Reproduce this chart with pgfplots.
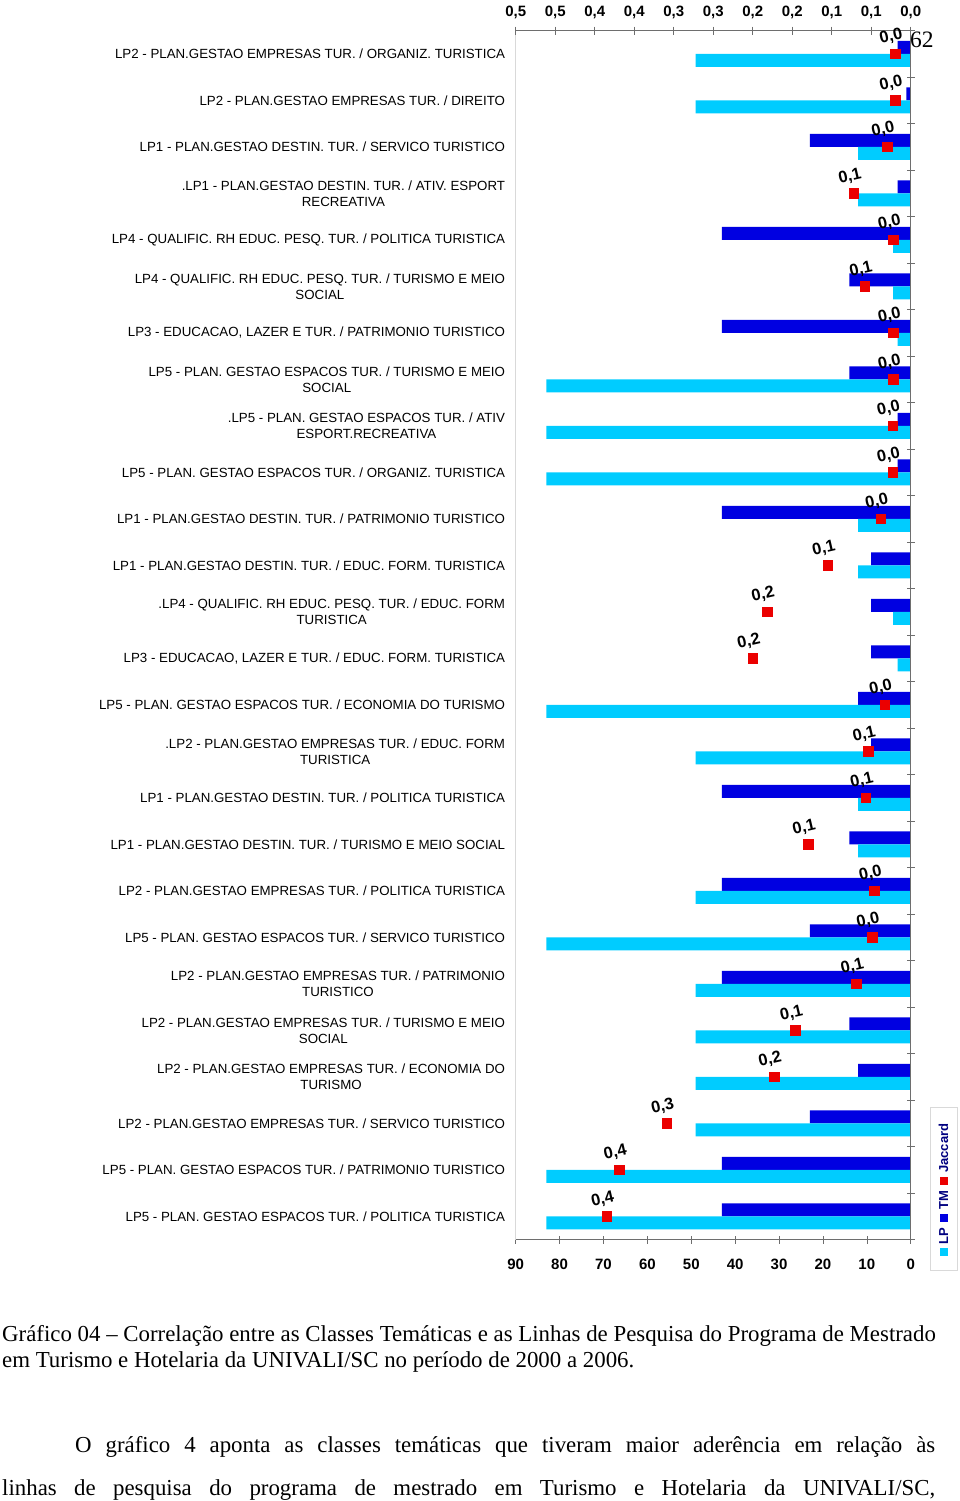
\documentclass[border=0pt]{standalone}
\usepackage{pgfplots}
\pgfplotsset{compat=1.18}
\usepackage{pgfplotstable}
\usepackage{fontspec}
\setmainfont{Liberation Serif}
\newfontfamily\arial{Liberation Sans}
\definecolor{lpc}{RGB}{0,204,255}
\definecolor{tmc}{RGB}{0,0,225}
\definecolor{jc}{RGB}{235,0,0}
\definecolor{leg}{RGB}{0,0,128}
\definecolor{axc}{RGB}{110,110,110}

\pgfplotstableread{
row tm lp j lab
1 3 49 0.020 0,0
2 1 49 0.020 0,0
3 23 12 0.030 0,0
4 3 12 0.072 0,1
5 43 4 0.022 0,0
6 14 4 0.058 0,1
7 43 3 0.022 0,0
8 14 83 0.022 0,0
9 3 83 0.023 0,0
10 3 83 0.023 0,0
11 43 12 0.038 0,0
12 9 12 0.105 0,1
13 9 4 0.182 0,2
14 9 3 0.200 0,2
15 12 83 0.033 0,0
16 9 49 0.054 0,1
17 43 12 0.057 0,1
18 14 12 0.130 0,1
19 43 49 0.046 0,0
20 23 83 0.049 0,0
21 43 49 0.069 0,1
22 14 49 0.146 0,1
23 12 49 0.173 0,2
24 23 49 0.309 0,3
25 43 83 0.369 0,4
26 43 83 0.385 0,4
}\data

\begin{document}
\begin{tikzpicture}[x=1pt,y=1pt]
\useasboundingbox (0,0) rectangle (960,-1501);
\begin{axis}[
 at={(515.7pt,-1239.5pt)}, anchor=south west,
 scale only axis, width=395pt, height=1209pt,
 xmin=0, xmax=90, x dir=reverse,
 ymin=0, ymax=26, y dir=reverse,
 clip=false,
 axis line style={draw=none},
 xtick={0,10,20,30,40,50,60,70,80,90},
 xticklabels={0,10,20,30,40,50,60,70,80,90},
 xtick pos=bottom,
 tick align=center, major tick length=8pt, minor tick length=8pt,
 tick style={axc, line width=0.6pt},
 xticklabel style={font=\arial\bfseries\fontsize{15}{18}\selectfont, yshift=-12pt},
 ytick={0.5,1.5,...,25.5},
 ytick pos=right, yticklabel pos=left,
 major y tick style={draw=none},
 minor ytick={0,1,...,26},
 minor y tick style={draw=axc, line width=0.6pt},
 yticklabel style={font=\arial\fontsize{13.3}{16}\selectfont, align=center, inner xsep=0pt, xshift=-6.5pt},
 yticklabels={
 {LP2 - PLAN.GESTAO EMPRESAS TUR. / ORGANIZ. TURISTICA},
 {LP2 - PLAN.GESTAO EMPRESAS TUR. / DIREITO},
 {LP1 - PLAN.GESTAO DESTIN. TUR. / SERVICO TURISTICO},
 {.LP1 - PLAN.GESTAO DESTIN. TUR. / ATIV. ESPORT\\RECREATIVA},
 {LP4 - QUALIFIC. RH EDUC. PESQ. TUR. / POLITICA TURISTICA},
 {LP4 - QUALIFIC. RH EDUC. PESQ. TUR. / TURISMO E MEIO\\SOCIAL},
 {LP3 - EDUCACAO, LAZER E TUR. / PATRIMONIO TURISTICO},
 {LP5 - PLAN. GESTAO ESPACOS TUR. / TURISMO E MEIO\\SOCIAL},
 {.LP5 - PLAN. GESTAO ESPACOS TUR. / ATIV\\ESPORT.RECREATIVA},
 {LP5 - PLAN. GESTAO ESPACOS TUR. / ORGANIZ. TURISTICA},
 {LP1 - PLAN.GESTAO DESTIN. TUR. / PATRIMONIO TURISTICO},
 {LP1 - PLAN.GESTAO DESTIN. TUR. / EDUC. FORM. TURISTICA},
 {.LP4 - QUALIFIC. RH EDUC. PESQ. TUR. / EDUC. FORM\\TURISTICA},
 {LP3 - EDUCACAO, LAZER E TUR. / EDUC. FORM. TURISTICA},
 {LP5 - PLAN. GESTAO ESPACOS TUR. / ECONOMIA DO TURISMO},
 {.LP2 - PLAN.GESTAO EMPRESAS TUR. / EDUC. FORM\\TURISTICA},
 {LP1 - PLAN.GESTAO DESTIN. TUR. / POLITICA TURISTICA},
 {LP1 - PLAN.GESTAO DESTIN. TUR. / TURISMO E MEIO SOCIAL},
 {LP2 - PLAN.GESTAO EMPRESAS TUR. / POLITICA TURISTICA},
 {LP5 - PLAN. GESTAO ESPACOS TUR. / SERVICO TURISTICO},
 {LP2 - PLAN.GESTAO EMPRESAS TUR. / PATRIMONIO\\TURISTICO},
 {LP2 - PLAN.GESTAO EMPRESAS TUR. / TURISMO E MEIO\\SOCIAL},
 {LP2 - PLAN.GESTAO EMPRESAS TUR. / ECONOMIA DO\\TURISMO},
 {LP2 - PLAN.GESTAO EMPRESAS TUR. / SERVICO TURISTICO},
 {LP5 - PLAN. GESTAO ESPACOS TUR. / PATRIMONIO TURISTICO},
 {LP5 - PLAN. GESTAO ESPACOS TUR. / POLITICA TURISTICA}},
]
\addplot[xbar, bar width=13pt, bar shift=0pt, fill=tmc, draw=none]
  table[x=tm, y expr=\thisrow{row}-0.5-0.14] {\data};
\addplot[xbar, bar width=13pt, bar shift=0pt, fill=lpc, draw=none]
  table[x=lp, y expr=\thisrow{row}-0.5+0.14] {\data};
\draw[gray!30, line width=0.8pt] (axis cs:90,0) -- (axis cs:90,26);
\draw[axc, line width=0.8pt] (axis cs:0,0) -- (axis cs:0,26);
\draw[axc, line width=0.8pt] (axis cs:90,26) -- (axis cs:0,26);
\end{axis}

\begin{axis}[
 at={(515.7pt,-1239.5pt)}, anchor=south west,
 scale only axis, width=395pt, height=1209pt,
 xmin=0, xmax=0.5, x dir=reverse,
 ymin=0, ymax=26, y dir=reverse,
 axis x line*=top, axis y line=none,
 axis line style={axc, line width=0.8pt},
 tick align=center, major tick length=8pt,
 tick style={axc, line width=0.6pt},
 xtick={0,0.05,0.1,0.15,0.2,0.25,0.3,0.35,0.4,0.45,0.5},
 xticklabels={{0,0},{0,1},{0,1},{0,2},{0,2},{0,3},{0,3},{0,4},{0,4},{0,5},{0,5}},
 xticklabel style={font=\arial\bfseries\fontsize{15}{18}\selectfont, yshift=4pt},
 clip=false,
]
\addplot[only marks, mark=square*, mark size=4.8pt, color=jc,
  nodes near coords, point meta=explicit symbolic,
  every node near coord/.append style={font=\arial\bfseries\fontsize{16.5}{18}\selectfont, text=black, rotate=13, anchor=south, inner sep=1pt, yshift=9pt}]
  table[x=j, y expr=\thisrow{row}-0.5, meta=lab] {\data};
\end{axis}

% legend
\draw[gray!30, line width=0.8pt] (930,-1107.7) rectangle (957,-1270);
\node[rotate=90, font=\arial\bfseries\fontsize{13}{15}\selectfont, text=leg, inner sep=0pt] at (943.5,-1190)
 {\textcolor{lpc}{\rule{8pt}{8pt}}\hspace{4pt}LP\hspace{6pt}\textcolor{tmc}{\rule{8pt}{8pt}}\hspace{4pt}TM\hspace{6pt}\textcolor{jc}{\rule{8pt}{8pt}}\hspace{4pt}Jaccard};

% page number
\node[anchor=base west, inner sep=0pt, font=\fontsize{23.5}{26}\selectfont] at (910,-48) {62};

% caption and text
\node[anchor=base west, inner sep=0pt, font=\fontsize{22.85}{26}\selectfont] at (2,-1341)
 {Gráfico 04 – Correlação entre as Classes Temáticas e as Linhas de Pesquisa do Programa de Mestrado};
\node[anchor=base west, inner sep=0pt, font=\fontsize{22.85}{26}\selectfont] at (2,-1367)
 {em Turismo e Hotelaria da UNIVALI/SC no período de 2000 a 2006.};
\node[anchor=base west, inner sep=0pt, font=\fontsize{22.85}{26}\selectfont] at (75,-1452)
 {\makebox[860pt][s]{O gráfico 4 aponta as classes temáticas que tiveram maior aderência em relação às}};
\node[anchor=base west, inner sep=0pt, font=\fontsize{22.85}{26}\selectfont] at (2,-1495)
 {\makebox[933pt][s]{linhas de pesquisa do programa de mestrado em Turismo e Hotelaria da UNIVALI/SC,}};
\end{tikzpicture}
\end{document}
